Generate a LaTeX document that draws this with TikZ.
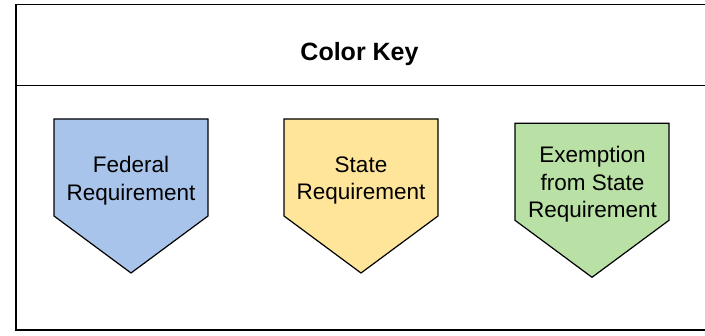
\documentclass[tikz,border=0pt]{standalone}
\usepackage{fontspec}
\setmainfont{Liberation Sans}
\usepackage{tikz}
\definecolor{fedblue}{HTML}{A9C4EB}
\definecolor{stateyellow}{HTML}{FFE599}
\definecolor{exgreen}{HTML}{B9E0A5}

\begin{document}
\begin{tikzpicture}[x=1pt,y=-1pt,
  frame/.style={line width=1.8pt},
  tag/.style={draw=black,line width=1.2pt,line join=miter},
  keytext/.style={align=center,font=\fontsize{22.5}{27.5}\selectfont,inner sep=0pt}]
\useasboundingbox (0,0) rectangle (705,336);
% outer box and header line
\draw[frame] (708,4.5) -- (16,4.5) -- (16,330) -- (708,330);
\draw[frame] (16,85.5) -- (708,85.5);
\node[font=\fontsize{25}{30}\selectfont\bfseries,anchor=base] (title) at (359.5,61) {Color Key};
% the three tags
\foreach \x/\t/\c in {54/119/fedblue,284/119/stateyellow,515/123.3/exgreen}
\filldraw[tag,fill=\c] (\x,\t) -- ++(154,0) -- ++(0,97) -- ++(-77,57) -- ++(-77,-57) -- cycle;
\node[keytext] (fed) at (131,180.5) {Federal\\Requirement};
\node[keytext] (state) at (361,180.5) {State\\Requirement};
\node[keytext] (exempt) at (592.5,184.2) {Exemption\\from State\\Requirement};
\end{tikzpicture}
\end{document}
